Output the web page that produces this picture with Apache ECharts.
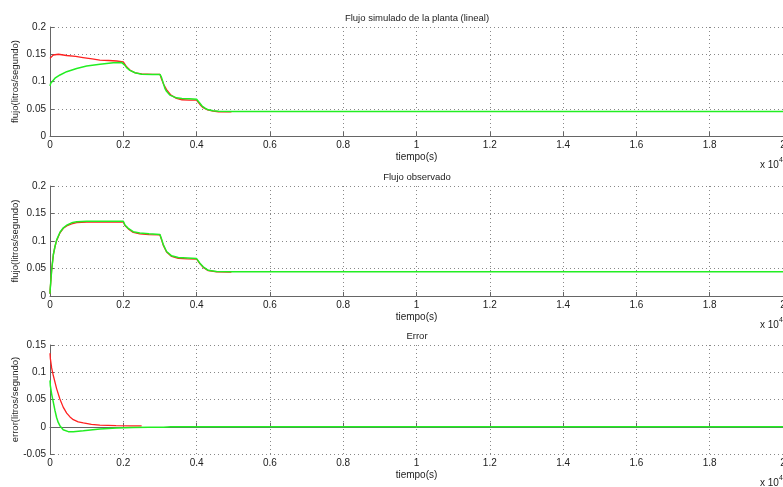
<!DOCTYPE html>
<html>
<head>
<meta charset="utf-8">
<style>html,body{margin:0;padding:0;background:#fff;}#c{width:783px;height:487px;}</style>
<script src="https://cdn.jsdelivr.net/npm/echarts@6/dist/echarts.min.js"></script>
</head>
<body>
<div id="c"></div>
<script>
// ---- Data (tiempo en s, flujo en litros/segundo) ----
const titulos = ['Flujo simulado de la planta (lineal)', 'Flujo observado', 'Error'];
const nombresY = ['flujo(litros/segundo)', 'flujo(litros/segundo)', 'error(litros/segundo)'];
const xNombre = 'tiempo(s)';

// Plot 1: simulated flow
const tSimRojo = [0, 90, 230, 450, 700, 900, 1150, 1360, 1600, 1820, 2000, 2040, 2090, 2180, 2320, 2500, 2800, 3000, 3040, 3100, 3180, 3300, 3450, 3600, 3800, 4000, 4040, 4100, 4180, 4300, 4450, 4600, 4800, 4950];
const simRojo  = [0.1425, 0.1486, 0.150, 0.1477, 0.146, 0.144, 0.1415, 0.1394, 0.1385, 0.1376, 0.136, 0.132, 0.127, 0.121, 0.116, 0.114, 0.113, 0.113, 0.105, 0.095, 0.085, 0.075, 0.069, 0.0665, 0.066, 0.066, 0.062, 0.057, 0.052, 0.048, 0.0455, 0.0445, 0.0445, 0.0445];
const tSimVerde = [0, 20, 50, 136, 273, 455, 727, 1000, 1364, 1727, 1950, 2000, 2040, 2090, 2180, 2320, 2500, 2800, 3000, 3040, 3090, 3135, 3180, 3270, 3450, 3600, 3800, 4000, 4040, 4090, 4150, 4230, 4320, 4450, 4600, 5000, 20000];
const simVerde  = [0.092, 0.097, 0.100, 0.106, 0.112, 0.118, 0.124, 0.1284, 0.1315, 0.1346, 0.135, 0.135, 0.130, 0.1255, 0.1205, 0.116, 0.1135, 0.113, 0.113, 0.108, 0.097, 0.0875, 0.082, 0.075, 0.070, 0.069, 0.0685, 0.0675, 0.065, 0.060, 0.055, 0.051, 0.048, 0.0465, 0.0455, 0.045, 0.045];

// Plot 2: observed flow
const tObsRojo = [0, 5, 18, 45, 91, 136, 182, 273, 364, 455, 590, 727, 1000, 1500, 2000, 2045, 2136, 2270, 2450, 2700, 3000, 3045, 3090, 3180, 3318, 3500, 3750, 4000, 4045, 4090, 4180, 4318, 4545, 4950];
const obsRojo  = [0.004, 0.012, 0.023, 0.047, 0.075, 0.090, 0.101, 0.115, 0.123, 0.1275, 0.131, 0.1335, 0.1345, 0.1345, 0.1345, 0.128, 0.122, 0.1155, 0.113, 0.1115, 0.111, 0.102, 0.0925, 0.080, 0.072, 0.0685, 0.0675, 0.067, 0.064, 0.059, 0.052, 0.046, 0.0440, 0.0435];
const tObsVerde = [0, 5, 18, 45, 91, 136, 182, 273, 364, 455, 590, 727, 1000, 1500, 2000, 2045, 2136, 2270, 2450, 2700, 3000, 3045, 3090, 3180, 3318, 3500, 3750, 4000, 4045, 4090, 4180, 4318, 4545, 5000, 20000];
const obsVerde  = [0.004, 0.012, 0.023, 0.047, 0.075, 0.090, 0.102, 0.116, 0.124, 0.1286, 0.133, 0.1348, 0.136, 0.136, 0.136, 0.129, 0.123, 0.117, 0.1145, 0.113, 0.112, 0.103, 0.0935, 0.081, 0.073, 0.0700, 0.069, 0.068, 0.065, 0.0597, 0.053, 0.0468, 0.0445, 0.044, 0.044];

// Plot 3: error
const tErrRojo = [0, 10, 45, 90, 180, 270, 360, 455, 545, 636, 770, 909, 1130, 1360, 1800, 2200, 2500];
const errRojo  = [0.135, 0.125, 0.108, 0.094, 0.070, 0.051, 0.036, 0.025, 0.018, 0.013, 0.009, 0.007, 0.0045, 0.003, 0.002, 0.0015, 0.0015];
const tErrVerde = [0, 10, 45, 90, 135, 180, 225, 270, 360, 500, 636, 909, 1360, 1820, 2270, 2700, 3100, 3300, 20000];
const errVerde  = [0.085, 0.075, 0.060, 0.045, 0.030, 0.017, 0.008, 0.002, -0.0055, -0.009, -0.009, -0.0075, -0.004, -0.0025, -0.0015, -0.001, -0.001, 0, 0];

const yRangos = [[0, 0.2], [0, 0.2], [-0.05, 0.15]];
const xMax = 20000, xPaso = 2000, yPaso = 0.05;

// ---- Chart ----
const FONT = '"Liberation Sans", Arial, sans-serif';
const TXT = '#222';
const AX = '#666';
const pares = (t, v) => t.map((x, i) => [x, v[i]]);

const grids = [
  {left: 50, right: 0, top: 27, height: 109, containLabel: false, outerBoundsMode: 'none'},
  {left: 50, right: 0, top: 186, height: 110, containLabel: false, outerBoundsMode: 'none'},
  {left: 50, right: 0, top: 345, height: 109, containLabel: false, outerBoundsMode: 'none'}
];

const xAxes = grids.map((g, i) => ({
  gridIndex: i, type: 'value', min: 0, max: xMax, interval: xPaso,
  name: xNombre, nameLocation: 'middle', nameGap: 16, nameMoveOverlap: false,
  nameTextStyle: {fontFamily: FONT, fontSize: 10, color: TXT},
  axisLine: {lineStyle: {color: AX, width: 1}},
  axisTick: {inside: true, length: 4, lineStyle: {color: AX}},
  axisLabel: {fontFamily: FONT, fontSize: 10, color: TXT, margin: 4,
    formatter: v => String(+(v / 10000).toFixed(1))},
  splitLine: {show: true, lineStyle: {color: '#888', type: [1, 3], width: 1}}
}));

const yAxes = grids.map((g, i) => ({
  gridIndex: i, type: 'value', min: yRangos[i][0], max: yRangos[i][1], interval: yPaso,
  name: nombresY[i], nameLocation: 'middle', nameGap: 30, nameMoveOverlap: false,
  nameTextStyle: {fontFamily: FONT, fontSize: 9.5, color: TXT},
  axisLine: {show: true, lineStyle: {color: AX, width: 1}},
  axisTick: {show: true, inside: true, length: 4, lineStyle: {color: AX}},
  axisLabel: {fontFamily: FONT, fontSize: 10, color: TXT, margin: 4,
    formatter: v => String(+v.toFixed(2))},
  splitLine: {show: true, lineStyle: {color: '#888', type: [1, 3], width: 1}}
}));

const linea = (idx, data, color, w) => ({
  type: 'line', xAxisIndex: idx, yAxisIndex: idx, data: data,
  showSymbol: false, symbol: 'none', lineStyle: {color: color, width: w},
  itemStyle: {color: color}, silent: true
});

const series = [
  linea(0, pares(tSimRojo, simRojo), '#ff2020', 1.3),
  linea(0, pares(tSimVerde, simVerde), '#22ee22', 1.5),
  linea(1, pares(tObsRojo, obsRojo), '#ff2020', 1.3),
  linea(1, pares(tObsVerde, obsVerde), '#22ee22', 1.5),
  linea(2, pares(tErrRojo, errRojo), '#ff2020', 1.3),
  linea(2, pares(tErrVerde, errVerde), '#22ee22', 1.5)
];

const titles = grids.map((g, i) => ({
  text: titulos[i], left: 412, top: g.top - 19, textAlign: 'center',
  textStyle: {fontFamily: FONT, fontSize: 9.5, fontWeight: 'normal', color: TXT}
}));

const exps = grids.map(g => ({
  type: 'text', left: 760, top: g.top + g.height + 21,
  style: {text: '{b|x 10}{s|4}', rich: {
    b: {fontFamily: FONT, fontSize: 10, fill: TXT, padding: [3, 0, 0, 0]},
    s: {fontFamily: FONT, fontSize: 7, fill: TXT, padding: [0, 0, 6, 0]}
  }}
}));

const chart = echarts.init(document.getElementById('c'), null, {renderer: 'canvas'});
chart.setOption({
  animation: false,
  backgroundColor: '#fff',
  title: titles,
  grid: grids,
  xAxis: xAxes,
  yAxis: yAxes,
  series: series,
  graphic: exps
});
</script>
</body>
</html>
